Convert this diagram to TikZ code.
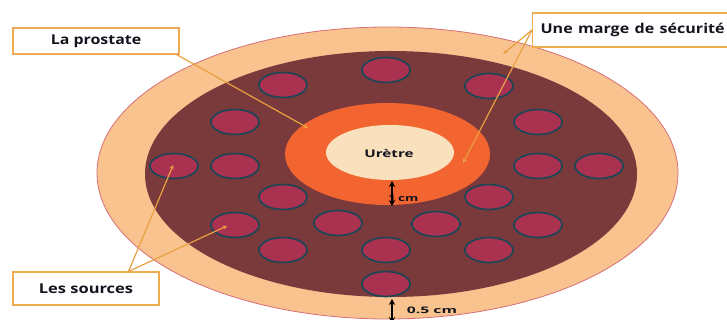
\documentclass[tikz,border=0pt]{standalone}
\usepackage{fontspec}
\setmainfont{Open Sans}
\usetikzlibrary{shapes.geometric,arrows.meta}

\definecolor{peach}{HTML}{F8C38E}
\definecolor{rim}{HTML}{D76E78}
\definecolor{tissue}{HTML}{7A3A3C}
\definecolor{ringor}{HTML}{F26430}
\definecolor{cream}{HTML}{FAE1BE}
\definecolor{seedfill}{HTML}{AA3250}
\definecolor{seededge}{HTML}{1C4656}
\definecolor{leader}{HTML}{E9A040}
\definecolor{boxedge}{HTML}{F0AA50}
\definecolor{ink}{HTML}{14141E}

\newcommand\widetxt[2]{\scalebox{#1}[1]{#2}}

\tikzset{
  zone/.style={ellipse, inner sep=0pt},
  seed/.style={ellipse, draw=seededge, fill=seedfill, line width=1.7pt,
               minimum width=48pt, minimum height=25pt, inner sep=0pt},
  labelbox/.style={draw=boxedge, fill=white, line width=1.1pt, text=ink,
                   font=\bfseries\fontsize{13.5}{15}\selectfont, inner sep=0pt},
  leadline/.style={draw=leader, line width=1.2pt, -{Stealth[length=4.5pt,width=4pt]}},
  measure/.style={draw=black, line width=1.9pt,
                  {Stealth[length=6pt,width=6.5pt]}-{Stealth[length=6pt,width=6.5pt]}},
  small/.style={text=ink, font=\bfseries\fontsize{9}{10}\selectfont, inner sep=0pt}
}

\begin{document}
\begin{tikzpicture}[x=1pt, y=-1pt]
\useasboundingbox (0,0) rectangle (727,320);
\begin{scope}
\clip (0,0) rectangle (727,320);

% concentric zones
\node[zone, fill=peach, draw=rim, line width=0.8pt,
      minimum width=581pt, minimum height=292pt] (marginzone) at (387.5,173) {};
\node[zone, fill=tissue, minimum width=492pt, minimum height=246pt] (gland) at (391,174) {};
\node[zone, fill=ringor, minimum width=205pt, minimum height=102pt] (ring) at (387.5,154) {};
\node[zone, fill=cream, minimum width=128pt, minimum height=55pt] (urethra) at (390,152.5) {};
\node[small, font=\bfseries\fontsize{10.5}{12}\selectfont] (urlbl) at (389,154) {\widetxt{1.45}{Urètre}};

% radioactive sources
\foreach \n/\px/\py in {1/386/70, 2/283/85, 3/489/86, 4/235/122, 5/538/122,
                        6/174/166, 7/235/166, 8/538/166, 9/599/166,
                        10/283/197, 11/489/197,
                        12/235/225, 13/338/223, 14/436/224, 15/538/225,
                        16/283/250, 17/386/250, 18/489/250, 19/386/284}
  \node[seed] (s\n) at (\px,\py) {};

% distance marks
\node[small, anchor=base west] (onecm) at (388,202) {\widetxt{1.5}{1\,cm}};
\coordinate (ringin) at (392,181);
\coordinate (ringout) at (392,206);
\draw[measure] (ringin) -- (ringout);

\node[small] (halfcm) at (432,310) {\widetxt{1.75}{0.5 cm}};
\coordinate (rimin) at (392,299);
\coordinate (rimout) at (392,323);
\draw[measure] (rimin) -- (rimout);

% label boxes
\node[labelbox, minimum width=166pt, minimum height=26pt] (prost) at (96,41)
  {\widetxt{1.18}{La prostate}};
\node[labelbox, anchor=west, minimum height=34pt, text width=212pt, align=left,
      inner xsep=8pt] (marge) at (532,30) {\widetxt{1.19}{Une marge de sécurité}};
\node[labelbox, minimum width=146pt, minimum height=33pt] (srclbl) at (86,288.5)
  {\widetxt{1.22}{Les sources}};

% leader lines
\coordinate (prosttip) at (308,128);
\draw[leadline] ([xshift=-3pt]prost.south east) -- (prosttip);

\coordinate (margetipA) at (503,54);
\coordinate (margetipB) at (463,163);
\draw[leadline] (marge.west) -- (margetipA);
\draw[leadline] (marge.west) -- (margetipB);

\draw[leadline, shorten >=2pt] ([xshift=-31pt]srclbl.north east) -- ([yshift=3pt]s6.center);
\draw[leadline, shorten >=2pt] ([xshift=-31pt]srclbl.north east) -- ([xshift=-6pt]s12.center);
\end{scope}
\end{tikzpicture}
\end{document}
